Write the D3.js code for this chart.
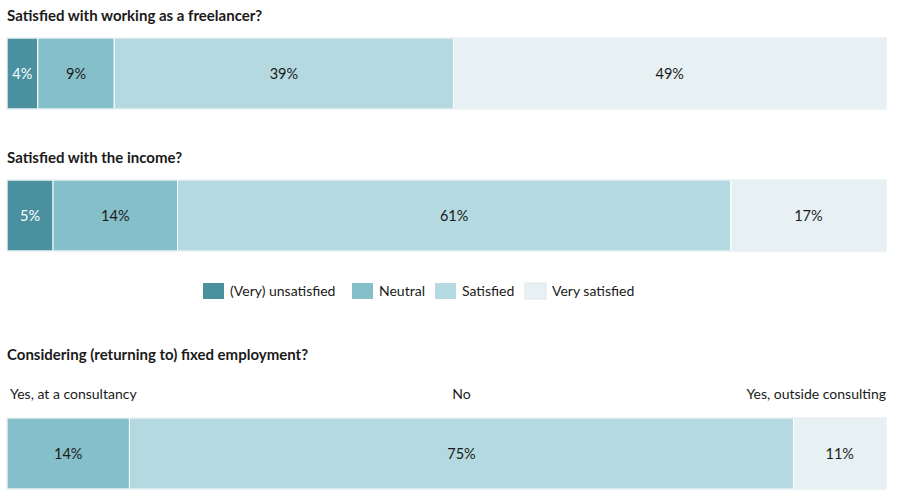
<!DOCTYPE html>
<html>
<head>
<meta charset="utf-8">
<script src="https://cdn.jsdelivr.net/npm/d3@7"></script>
<style>
  body { margin: 0; background: #fff; }
  svg text { font-family: Lato, "Open Sans", sans-serif; }
</style>
</head>
<body>
<div id="chart"></div>
<script>
// answers; labels are the rounded values
var satisfactionLevels = ['(Very) unsatisfied', 'Neutral', 'Satisfied', 'Very satisfied'];
var workValues = [3.5, 8.7, 38.6, 49.2];
var incomeValues = [5.1, 13.8, 61.3, 17.2];
var employmentOptions = ['Yes, at a consultancy', 'No', 'Yes, outside consulting'];
var employmentValues = [13.9, 75.4, 10.5];

var titles = [
  'Satisfied with working as a freelancer?',
  'Satisfied with the income?',
  'Considering (returning to) fixed employment?'
];

var colors = ['#4a909f', '#85bfc9', '#b5d9e0', '#e7f1f3'];
var textColors = ['#ffffff', '#1a1a1a', '#1a1a1a', '#1a1a1a'];

var dims = {
  width: 900,
  height: 498,
  left: 7,
  right: 886,
  barHeight: 71
};

var svg = d3.select('#chart').append('svg')
  .attr('width', dims.width)
  .attr('height', dims.height);

var drawTitle = function(text, y) {
  svg.append('text')
    .attr('x', dims.left)
    .attr('y', y)
    .attr('fill', '#1a1a1a')
    .attr('font-size', 15)
    .attr('font-weight', 'bold')
    .text(text);
};

var drawBar = function(values, colorIdx, y) {
  var total = d3.sum(values);
  var x = d3.scaleLinear().domain([0, total]).range([dims.left, dims.right]);
  var starts = d3.cumsum([0].concat(values)).slice(0, values.length);

  var g = svg.append('g').attr('transform', 'translate(0,' + y + ')');

  var seg = g.selectAll('g').data(values).enter().append('g');

  seg.append('rect')
    .attr('x', function(d, i) { return x(starts[i]); })
    .attr('y', 0)
    .attr('width', function(d) { return x(d) - x(0); })
    .attr('height', dims.barHeight)
    .attr('fill', function(d, i) { return colors[colorIdx[i]]; })
    .attr('stroke', '#ffffff')
    .attr('stroke-width', 1);

  seg.append('text')
    .attr('x', function(d, i) { return x(starts[i] + d / 2); })
    .attr('y', dims.barHeight / 2)
    .attr('dy', '0.35em')
    .attr('text-anchor', 'middle')
    .attr('font-size', 14.5)
    .attr('fill', function(d, i) { return textColors[colorIdx[i]]; })
    .text(function(d) { return Math.round(d) + '%'; });

  // faint outline round the whole bar
  g.append('rect')
    .attr('x', dims.left)
    .attr('y', 0)
    .attr('width', dims.right - dims.left)
    .attr('height', dims.barHeight)
    .attr('fill', 'none')
    .attr('stroke', '#dde9ec')
    .attr('stroke-width', 1);

  return { x: x, starts: starts };
};

drawTitle(titles[0], 21);
drawBar(workValues, [0, 1, 2, 3], 38);

drawTitle(titles[1], 163);
drawBar(incomeValues, [0, 1, 2, 3], 180);

// legend
var legendX = [203, 352, 435, 525];
var legend = svg.append('g').attr('transform', 'translate(0,283)');
var item = legend.selectAll('g').data(satisfactionLevels).enter().append('g')
  .attr('transform', function(d, i) { return 'translate(' + legendX[i] + ',0)'; });
item.append('rect')
  .attr('width', 21)
  .attr('height', 16)
  .attr('fill', function(d, i) { return colors[i]; })
  .attr('stroke', function(d, i) { return i === 3 ? '#dde9ec' : 'none'; });
item.append('text')
  .attr('x', 27)
  .attr('y', 8)
  .attr('dy', '0.35em')
  .attr('font-size', 14)
  .attr('fill', '#1a1a1a')
  .text(function(d) { return d; });

drawTitle(titles[2], 360);
var bar3 = drawBar(employmentValues, [1, 2, 3], 418);

svg.append('g').selectAll('text').data(employmentOptions).enter().append('text')
  .attr('x', function(d, i) {
    if (i === 0) return dims.left + 3;
    if (i === employmentOptions.length - 1) return dims.right;
    return bar3.x(bar3.starts[i] + employmentValues[i] / 2);
  })
  .attr('y', 399)
  .attr('text-anchor', function(d, i) {
    if (i === 0) return 'start';
    if (i === employmentOptions.length - 1) return 'end';
    return 'middle';
  })
  .attr('font-size', 14)
  .attr('fill', '#1a1a1a')
  .text(function(d) { return d; });
</script>
</body>
</html>
